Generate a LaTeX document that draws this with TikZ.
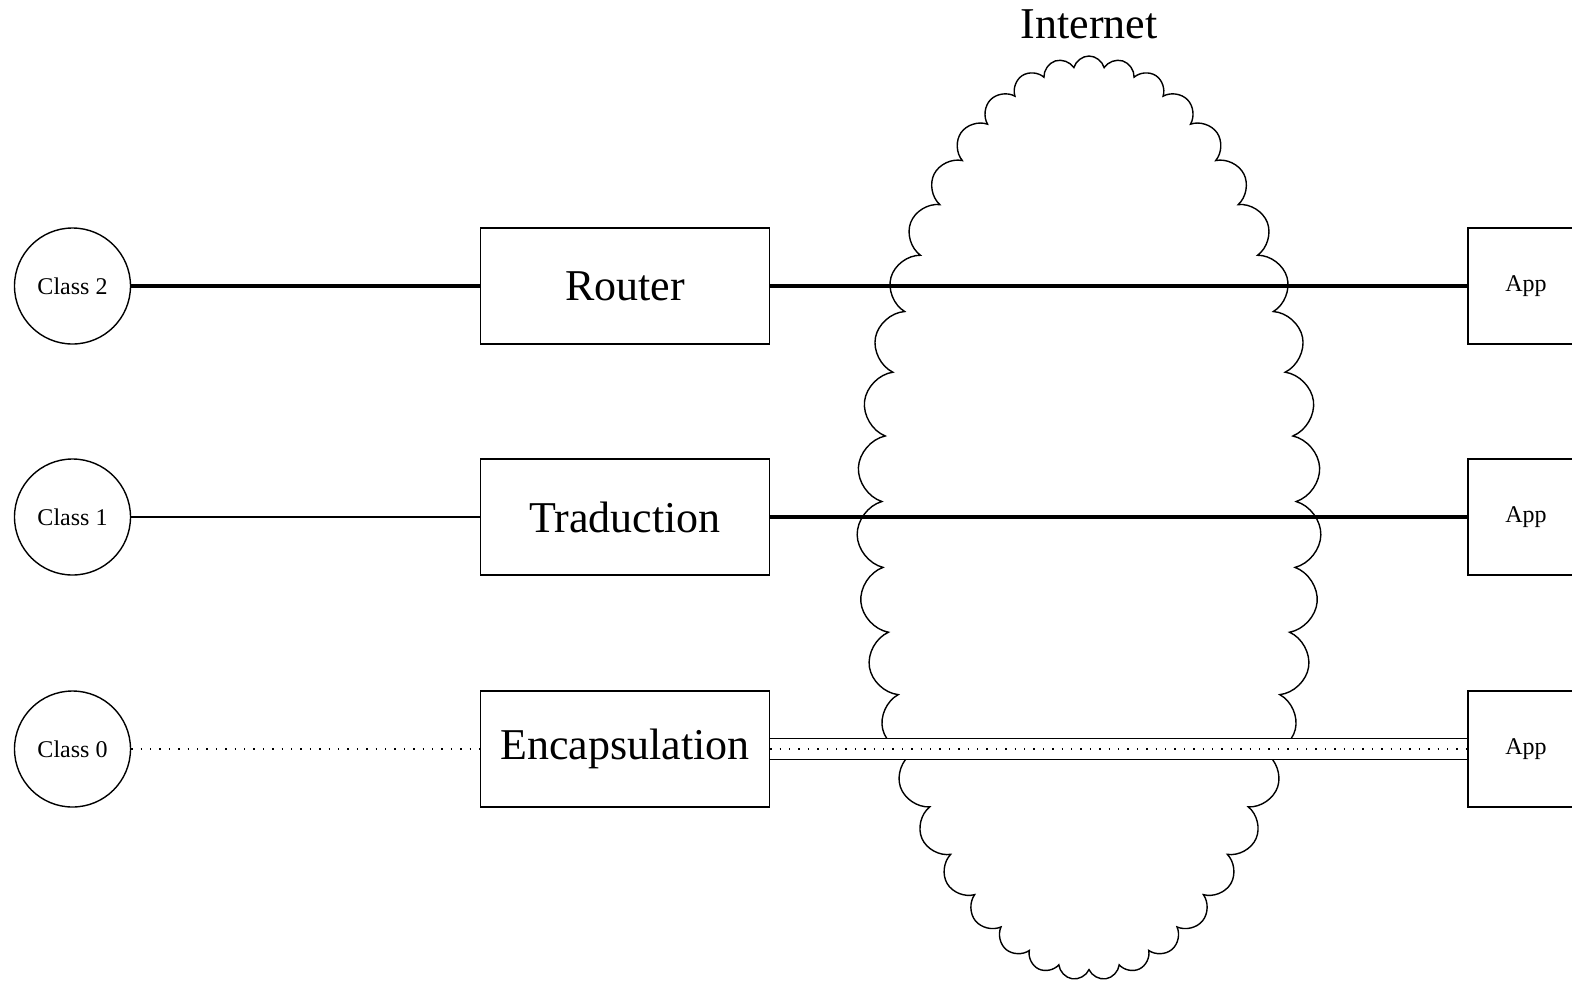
\documentclass[tikz,border=0pt]{standalone}
\usepackage{fontspec}
\setmainfont{Liberation Serif}
\usetikzlibrary{shapes.symbols}
\begin{document}
\begin{tikzpicture}[x=0.5pt,y=-0.5pt,
  classnode/.style={circle,draw,line width=0.7pt,minimum size=58pt,inner sep=0pt,
    font=\fontsize{12}{14}\selectfont},
  stagebox/.style={rectangle,draw,line width=0.7pt,minimum width=144.5pt,minimum height=58pt,
    inner sep=0pt,font=\fontsize{22}{26}\selectfont},
  appbox/.style={rectangle,draw,line width=0.7pt,minimum width=58pt,minimum height=58pt,
    inner sep=0pt,font=\fontsize{12}{14}\selectfont},
  strong/.style={line width=1.8pt},
  weak/.style={line width=0.7pt},
  tunnel/.style={line width=0.7pt,double=white,double distance=10pt},
]
\useasboundingbox (0,0) rectangle (1572,980);

% the network cloud, behind everything else
\node[cloud,draw,line width=0.7pt,cloud puffs=43,cloud ignores aspect,
      minimum width=232pt,minimum height=462pt,inner sep=0pt] (net) at (1089,518) {};
\node[font=\fontsize{22}{26}\selectfont,anchor=base,inner sep=0pt] (inet) at (1089,38) {Internet};

% hosts
\node[classnode] (c2) at (72.5,286) {Class 2};
\node[classnode] (c1) at (72.5,517) {Class 1};
\node[classnode] (c0) at (72.5,749) {Class 0};

% gateways
\node[stagebox] (router) at (625,286) {Router};
\node[stagebox] (trad)   at (625,517) {Traduction};
\node[stagebox] (encap)  at (625,749) {Encapsulation};

% applications
\node[appbox] (app2) at (1526,286) {App};
\node[appbox] (app1) at (1526,517) {App};
\node[appbox] (app0) at (1526,749) {App};

% links
\draw[strong] (c2) -- (router);
\draw[strong] (router) -- (app2);
\draw[weak] (c1) -- (trad);
\draw[strong] (trad) -- (app1);
\draw[weak,loosely dotted] (c0) -- (encap);
\draw[tunnel] (encap) -- (app0);
\draw[weak,loosely dotted] (encap) -- (app0);
\end{tikzpicture}
\end{document}
